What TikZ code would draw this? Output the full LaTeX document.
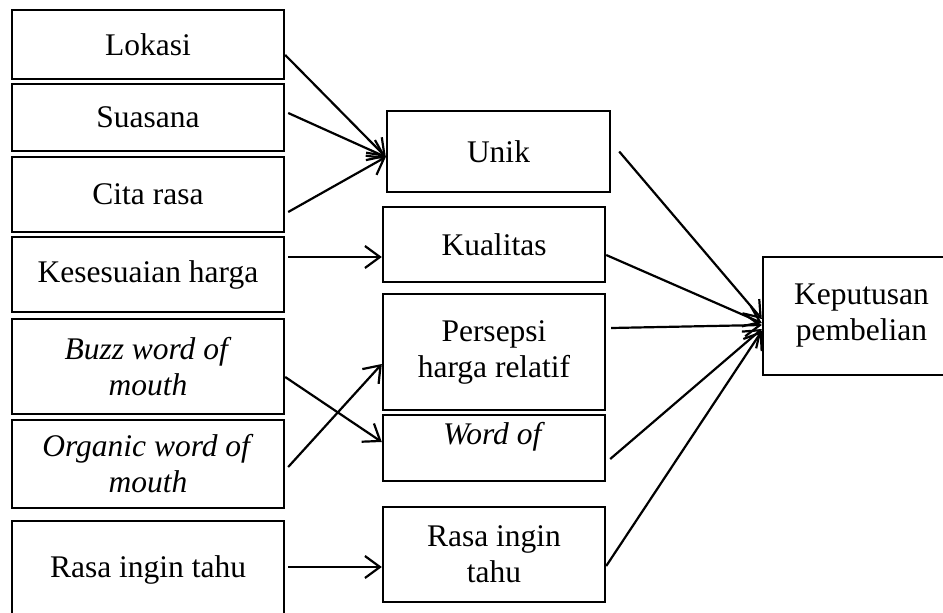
\documentclass[tikz,border=0pt]{standalone}
\usepackage{fontspec}
\setmainfont{Liberation Serif}
\usetikzlibrary{arrows.meta}
\tikzset{
    box/.style = {draw, line width=2.4pt, rectangle, inner sep=0pt, align=center,
        font=\fontsize{31.5}{36}\selectfont},
    lbox/.style = {box, minimum width=272pt},
    mbox/.style = {box, minimum width=222pt},
    link/.style = {draw, line width=2.2pt,
        -{Straight Barb[length=15pt, width=22pt, line width=2.2pt]}},
}

\begin{document}
\begin{tikzpicture}[x=1pt, y=-1pt]
                \useasboundingbox (0, 0) rectangle (943, 613);
                % left column
                \node[lbox, minimum height=69pt] (lok) at (148, 44.5) {Lokasi};
                \node[lbox, minimum height=67pt] (sua) at (148, 117.5) {Suasana};
                \node[lbox, minimum height=75pt] (cita) at (148, 194.5) {Cita rasa};
                \node[lbox, minimum height=75pt] (harga) at (148, 274.5) {Kesesuaian harga};
                \node[lbox, minimum height=95pt] (buzz) at (148, 366.5) {\textit{Buzz word of}\\\textit{mouth}};
                \node[lbox, minimum height=88pt] (org) at (148, 464) {\textit{Organic word of}\\\textit{mouth}};
                \node[lbox, minimum height=97pt] (ingin) at (148, 569.5) {Rasa ingin tahu};
                % middle column
                \node[box, minimum width=223pt, minimum height=81pt] (unik) at (498.5, 151.5) {Unik};
                \node[mbox, minimum height=75pt] (kual) at (494, 244.5) {Kualitas};
                \node[mbox, minimum height=116pt] (pers) at (494, 352) {Persepsi\\harga relatif};
                \node[mbox, minimum height=66pt, text height=21pt, text depth=29pt] (wom) at (494, 448) {\textit{Word of}};
                \node[mbox, minimum height=95pt] (ingintahu) at (494, 554.5) {Rasa ingin\\tahu};
                % right
                \node[box, minimum width=197pt, minimum height=118pt] (kep) at (861.5, 316) {Keputusan\\pembelian};

                \draw[link] ([yshift=-10.5pt]lok.east) -- ([yshift=-5.5pt]unik.west);
                \draw[link] ([xshift=3pt, yshift=4.5pt]sua.east) -- ([yshift=-5.5pt]unik.west);
                \draw[link] ([xshift=3pt, yshift=-17.5pt]cita.east) -- ([yshift=-5.5pt]unik.west);
                \draw[link] ([xshift=3pt, yshift=17.5pt]harga.east) -- ([yshift=-12.5pt]kual.west);
                \draw[link] ([yshift=-10.5pt]buzz.east) -- ([yshift=6pt]wom.west);
                \draw[link] ([xshift=3pt, yshift=-3pt]org.east) -- ([yshift=-12pt]pers.west);
                \draw[link] ([xshift=3pt, yshift=2.5pt]ingin.east) -- ([yshift=-12.5pt]ingintahu.west);

                \draw[link] ([xshift=8pt]unik.east) -- ([yshift=-3pt]kep.west);
                \draw[link] ([yshift=-10.5pt]kual.east) -- ([yshift=-7pt]kep.west);
                \draw[link] ([xshift=5pt, yshift=24pt]pers.east) -- ([yshift=-9pt]kep.west);
                \draw[link] ([xshift=4pt, yshift=-11pt]wom.east) -- ([yshift=-13pt]kep.west);
                \draw[link] ([yshift=-11.5pt]ingintahu.east) -- ([yshift=-15pt]kep.west);
            \end{tikzpicture}
\end{document}
